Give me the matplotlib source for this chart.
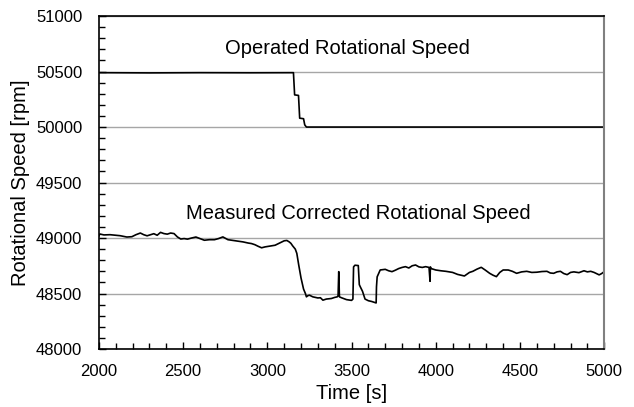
import numpy as np
import matplotlib
matplotlib.use('Agg')
import matplotlib.pyplot as plt
from matplotlib.ticker import MultipleLocator

plt.rcParams['font.family'] = ['Liberation Sans', 'DejaVu Sans']

# operated (commanded) speed
op_t = [2000, 2300, 2600, 2900, 3155, 3162, 3185, 3192, 3215, 3222, 3232, 5000]
op_v = [50490, 50488, 50490, 50489, 50490, 50290, 50285, 50080, 50075, 50020, 50000, 50000]

# measured corrected speed
ms_t = [2000, 2006, 2030, 2066, 2100, 2126, 2166, 2196, 2220, 2246, 2266, 2286, 2306, 2326,
        2346, 2366, 2386, 2406, 2426, 2446, 2466, 2486, 2506, 2526, 2550, 2576, 2600, 2626,
        2656, 2686, 2710, 2736, 2766, 2796, 2826, 2856, 2886, 2906, 2926, 2946, 2966, 2986,
        3006, 3026, 3046, 3066, 3086, 3100, 3116, 3130, 3140, 3150, 3166, 3175, 3186, 3200,
        3206, 3215, 3226, 3232, 3240, 3250, 3270, 3300, 3315, 3330, 3350, 3380, 3400, 3415,
        3420, 3424, 3428, 3440, 3470, 3500, 3508, 3512, 3520, 3540, 3546, 3552, 3565, 3580,
        3600, 3620, 3646, 3648, 3652, 3670, 3700, 3720, 3740, 3760, 3780, 3800, 3820, 3840,
        3860, 3880, 3900, 3920, 3940, 3960, 3966, 3968, 3972, 4000, 4030, 4060, 4100, 4130,
        4170, 4200, 4220, 4245, 4270, 4295, 4320, 4340, 4360, 4380, 4400, 4430, 4455, 4480,
        4510, 4540, 4570, 4600, 4630, 4660, 4680, 4700, 4720, 4740, 4760, 4780, 4800, 4820,
        4850, 4880, 4900, 4920, 4940, 4970, 4985, 5000]
ms_v = [49020, 49036, 49028, 49030, 49025, 49021, 49009, 49012, 49030, 49045, 49030, 49020, 49030, 49039,
        49025, 49051, 49040, 49035, 49045, 49040, 49010, 48991, 48995, 48990, 49000, 49009, 48995, 48980,
        48985, 48985, 48995, 49010, 48985, 48978, 48970, 48965, 48955, 48950, 48940, 48925, 48912, 48920,
        48925, 48930, 48935, 48950, 48965, 48975, 48978, 48965, 48952, 48930, 48900, 48862, 48760, 48640,
        48600, 48540, 48500, 48470, 48480, 48485, 48470, 48460, 48462, 48440, 48450, 48455, 48465, 48470,
        48480, 48697, 48470, 48462, 48445, 48438, 48450, 48740, 48755, 48752, 48580, 48560, 48520, 48450,
        48435, 48428, 48415, 48560, 48650, 48712, 48718, 48705, 48697, 48710, 48725, 48735, 48742, 48730,
        48750, 48757, 48740, 48735, 48742, 48735, 48610, 48740, 48725, 48712, 48705, 48700, 48690, 48672,
        48658, 48690, 48700, 48720, 48736, 48710, 48682, 48665, 48652, 48690, 48712, 48712, 48700, 48682,
        48695, 48700, 48690, 48692, 48698, 48700, 48685, 48682, 48695, 48700, 48680, 48670, 48690, 48695,
        48688, 48705, 48695, 48700, 48690, 48668, 48680, 48697]

fig = plt.figure(figsize=(6.34, 4.07), dpi=100)
ax = fig.add_axes([0.156, 0.1425, 0.797, 0.818])

ax.plot(op_t, op_v, color='black', lw=1.2)
ax.plot(ms_t, ms_v, color='black', lw=1.2)

ax.set_xlim(2000, 5000)
ax.set_ylim(48000, 51000)
ax.xaxis.set_major_locator(MultipleLocator(500))
ax.xaxis.set_minor_locator(MultipleLocator(100))
ax.yaxis.set_major_locator(MultipleLocator(500))
ax.yaxis.set_minor_locator(MultipleLocator(100))
ax.grid(axis='y', which='major', color='#a6a6a6', lw=1)
ax.set_axisbelow(True)
ax.tick_params(which='both', direction='in', labelsize=12, colors='black')
ax.tick_params(which='major', length=5, width=1)
ax.tick_params(which='minor', length=4, width=1)
ax.tick_params(axis='x', pad=10.5)
ax.tick_params(axis='y', pad=12)

for s in ['left', 'bottom', 'top']:
    ax.spines[s].set_color('black')
    ax.spines[s].set_linewidth(1.2)
ax.spines['right'].set_color('#808080')
ax.spines['right'].set_linewidth(1.5)

ax.set_xlabel('Time [s]', fontsize=14.5, labelpad=4)
ax.set_ylabel('Rotational Speed [rpm]', fontsize=14.5, labelpad=4)

ax.text(3473, 50712, 'Operated Rotational Speed', fontsize=14.5, ha='center', va='center')
ax.text(3538, 49225, 'Measured Corrected Rotational Speed', fontsize=14.5, ha='center', va='center')

fig.savefig('out.png', dpi=100)
